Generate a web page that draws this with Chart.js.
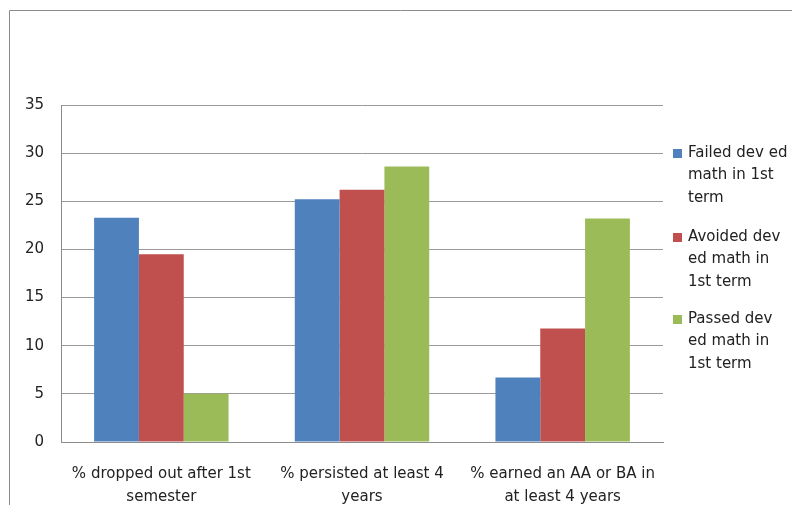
<!DOCTYPE html>
<html>
<head>
<meta charset="utf-8">
<script src="https://cdn.jsdelivr.net/npm/chart.js@4"></script>
<style>
  html, body { margin: 0; padding: 0; background: #fff; }
  #wrap { width: 792px; height: 505px; }
</style>
</head>
<body>
<div id="wrap"><canvas id="chart1"></canvas></div>
<script>
// data
const categories = [
    ['% dropped out after 1st', 'semester'],
    ['% persisted at least 4', 'years'],
    ['% earned an AA or BA in', 'at least 4 years']
];
const seriesNames = [
    'Failed dev ed math in 1st term',
    'Avoided dev ed math in 1st term',
    'Passed dev ed math in 1st term'
];
const legendLines = [
    ['Failed dev ed', 'math in 1st', 'term'],
    ['Avoided dev', 'ed math in', '1st term'],
    ['Passed dev', 'ed math in', '1st term']
];
const failedVals = [23.3, 25.2, 6.7];
const avoidedVals = [19.5, 26.2, 11.8];
const passedVals = [5.0, 28.6, 23.2];
const yTicks = [0, 5, 10, 15, 20, 25, 30, 35];

const colors = ['#4F81BD', '#C0504D', '#9BBB59'];
const font = '"DejaVu Sans", sans-serif';

// outer frame + wrapped legend on the right
const frameLegend = {
    id: 'frameLegend',
    afterDraw(chart) {
        const c = chart.ctx;
        c.save();
        c.strokeStyle = '#8c8c8c';
        c.lineWidth = 1;
        c.beginPath();
        c.moveTo(9.5, 505);
        c.lineTo(9.5, 10.5);
        c.lineTo(792, 10.5);
        c.stroke();

        c.font = '15px ' + font;
        c.textBaseline = 'middle';
        const tops = [153, 237, 319];
        chart.data.datasets.forEach((ds, i) => {
            c.fillStyle = ds.backgroundColor;
            c.fillRect(673, tops[i] - 4, 9, 9);
            c.fillStyle = '#222';
            legendLines[i].forEach((ln, j) => {
                c.fillText(ln, 688, tops[i] + j * 22.5);
            });
        });
        c.restore();
    }
};

const ctx1 = document.getElementById('chart1');
const myChart1 = new Chart(ctx1, {
    type: 'bar',
    data: {
        labels: categories,
        datasets: [
            { label: seriesNames[0], data: failedVals, backgroundColor: colors[0] },
            { label: seriesNames[1], data: avoidedVals, backgroundColor: colors[1] },
            { label: seriesNames[2], data: passedVals, backgroundColor: colors[2] }
        ]
    },
    options: {
        responsive: true,
        maintainAspectRatio: false,
        animation: false,
        barPercentage: 1,
        categoryPercentage: 0.67,
        layout: {
            padding: { left: 0, right: 129, top: 105, bottom: 0 }
        },
        scales: {
            x: {
                grid: { display: false },
                border: { display: true, color: '#8c8c8c' },
                ticks: {
                    color: '#222',
                    font: { family: font, size: 15, lineHeight: 1.53 },
                    padding: 13,
                    maxRotation: 0,
                    autoSkip: false
                },
                afterFit(scale) { scale.height = 63; }
            },
            y: {
                min: 0,
                max: 35,
                afterBuildTicks(scale) {
                    scale.ticks = yTicks.map(v => ({ value: v }));
                },
                grid: { color: '#9a9a9a', drawTicks: false },
                border: { display: true, color: '#8c8c8c' },
                ticks: {
                    color: '#222',
                    font: { family: font, size: 15 },
                    padding: 17
                },
                afterFit(scale) { scale.width = 61; }
            }
        },
        plugins: {
            legend: { display: false },
            tooltip: { enabled: false }
        }
    },
    plugins: [frameLegend]
});
</script>
</body>
</html>
